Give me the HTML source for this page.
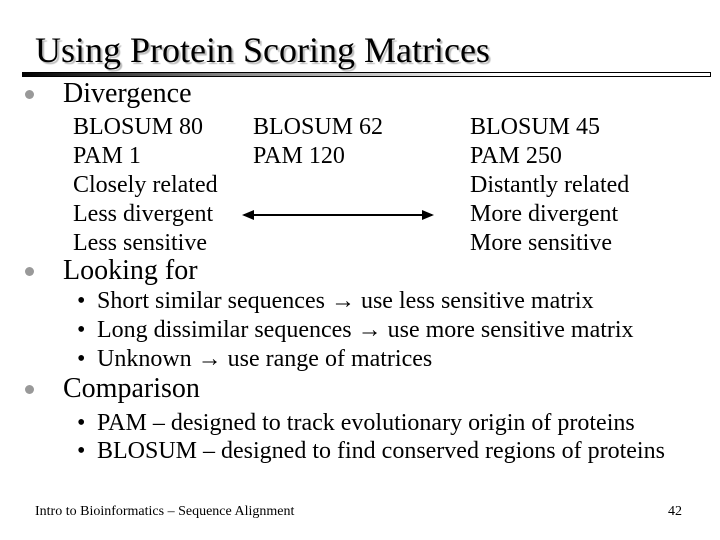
<!DOCTYPE html>
<html><head><meta charset="utf-8"><style>
body{margin:0;background:#fff}
#s{position:relative;width:720px;height:540px;overflow:hidden;font-family:"Liberation Serif",serif;color:#000}
#s div{position:absolute;line-height:1;white-space:nowrap}
.l1{font-size:28px}.l2{font-size:24px}
.dot{width:9px;height:9px;border-radius:50%;background:#999}
</style></head><body>
<div id="s">
<div style="left:35px;top:32px;font-size:36px;text-shadow:2px 2px 1px #bbb">Using Protein Scoring Matrices</div>
<div style="left:22px;top:72px;width:689px;height:5px;border:1px solid #000;border-left:none;box-sizing:border-box;background:linear-gradient(to right,#000,#888 30%,#fff 70%,#fff)"></div>

<div class="dot" style="left:25px;top:90px"></div>
<div class="l1" style="left:63px;top:80px">Divergence</div>

<div class="l2" style="left:73px;top:113px;line-height:29px">BLOSUM 80<br>PAM 1<br>Closely related<br>Less divergent<br>Less sensitive</div>
<div class="l2" style="left:253px;top:113px;line-height:29px">BLOSUM 62<br>PAM 120</div>
<div class="l2" style="left:470px;top:113px;line-height:29px">BLOSUM 45<br>PAM 250<br>Distantly related<br>More divergent<br>More sensitive</div>
<svg style="position:absolute;left:240px;top:208px" width="196" height="14"><line x1="4" y1="7" x2="192" y2="7" stroke="#000" stroke-width="2"/><polygon points="2,7 14,2 14,12" fill="#000"/><polygon points="194,7 182,2 182,12" fill="#000"/></svg>

<div class="dot" style="left:25px;top:267px"></div>
<div class="l1" style="left:63px;top:257px">Looking for</div>
<div class="l2" style="left:77px;top:289px">•</div>
<div class="l2" style="left:97px;top:289px">Short similar sequences → use less sensitive matrix</div>
<div class="l2" style="left:77px;top:318px">•</div>
<div class="l2" style="left:97px;top:318px">Long dissimilar sequences → use more sensitive matrix</div>
<div class="l2" style="left:77px;top:347px">•</div>
<div class="l2" style="left:97px;top:347px">Unknown → use range of matrices</div>

<div class="dot" style="left:25px;top:385px"></div>
<div class="l1" style="left:63px;top:375px">Comparison</div>
<div class="l2" style="left:77px;top:411px">•</div>
<div class="l2" style="left:97px;top:411px">PAM – designed to track evolutionary origin of proteins</div>
<div class="l2" style="left:77px;top:439px">•</div>
<div class="l2" style="left:97px;top:439px">BLOSUM – designed to find conserved regions of proteins</div>

<div style="left:35px;top:505px;font-size:14px">Intro to Bioinformatics – Sequence Alignment</div>
<div style="left:668px;top:505px;font-size:14px">42</div>
</div>
</body></html>
